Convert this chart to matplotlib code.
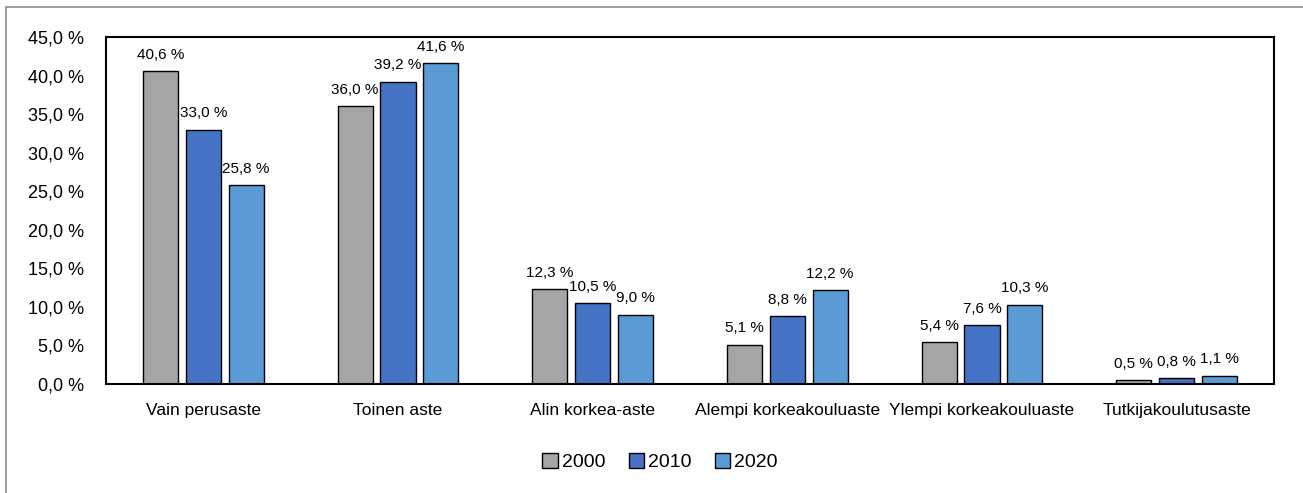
import matplotlib.pyplot as plt
import numpy as np
from matplotlib.patches import Rectangle

categories = ["Vain perusaste", "Toinen aste", "Alin korkea-aste",
              "Alempi korkeakouluaste", "Ylempi korkeakouluaste", "Tutkijakoulutusaste"]
years = ["2000", "2010", "2020"]
values_2000 = [40.6, 36.0, 12.3, 5.1, 5.4, 0.5]
values_2010 = [33.0, 39.2, 10.5, 8.8, 7.6, 0.8]
values_2020 = [25.8, 41.6, 9.0, 12.2, 10.3, 1.1]
colors = ["#A5A5A5", "#4472C4", "#5B9BD5"]

plt.rcParams['font.family'] = ['Liberation Sans', 'DejaVu Sans']


def fmt(v):
    return f"{v:.1f}".replace(".", ",") + " %"


fig = plt.figure(figsize=(13.03, 4.93), dpi=100)
ax = fig.add_axes([106 / 1303, 1 - 384 / 493, 1168 / 1303, 347 / 493])

# outer chart border
fig.patches.append(Rectangle((6 / 1303, -0.1), 1.2, 1 - 7 / 493 + 0.1,
                             transform=fig.transFigure, fill=False,
                             edgecolor="#8C8C8C", linewidth=1.2))

x = np.arange(len(categories))
width = 0.18
step = 0.22
series = [values_2000, values_2010, values_2020]
for i, (vals, col, yr) in enumerate(zip(series, colors, years)):
    pos = x + (i - 1) * step
    bars = ax.bar(pos, vals, width, color=col, edgecolor="black", linewidth=1.0, label=yr)
    for b, v in zip(bars, vals):
        ax.text(b.get_x() + b.get_width() / 2, v + 1.2, fmt(v),
                ha="center", va="bottom", fontsize=11)

ax.set_xlim(-0.5, len(categories) - 0.5)
ax.set_ylim(0, 45)
ax.set_yticks(np.arange(0, 46, 5))
ax.set_yticklabels([fmt(t) for t in np.arange(0, 46, 5)], fontsize=13)
ax.set_xticks(x)
ax.set_xticklabels(categories, fontsize=12.5)
ax.tick_params(axis="x", length=0, pad=14)
ax.tick_params(axis="y", length=0, pad=16)
for s in ax.spines.values():
    s.set_linewidth(1.5)
    s.set_color("black")

leg = fig.legend(loc="center", bbox_to_anchor=(660 / 1303, 1 - 462 / 493), ncol=3,
                 frameon=False, fontsize=14, handlelength=0.8, handleheight=0.8,
                 handletextpad=0.2, columnspacing=1.2)

fig.savefig("out.png", dpi=100)
